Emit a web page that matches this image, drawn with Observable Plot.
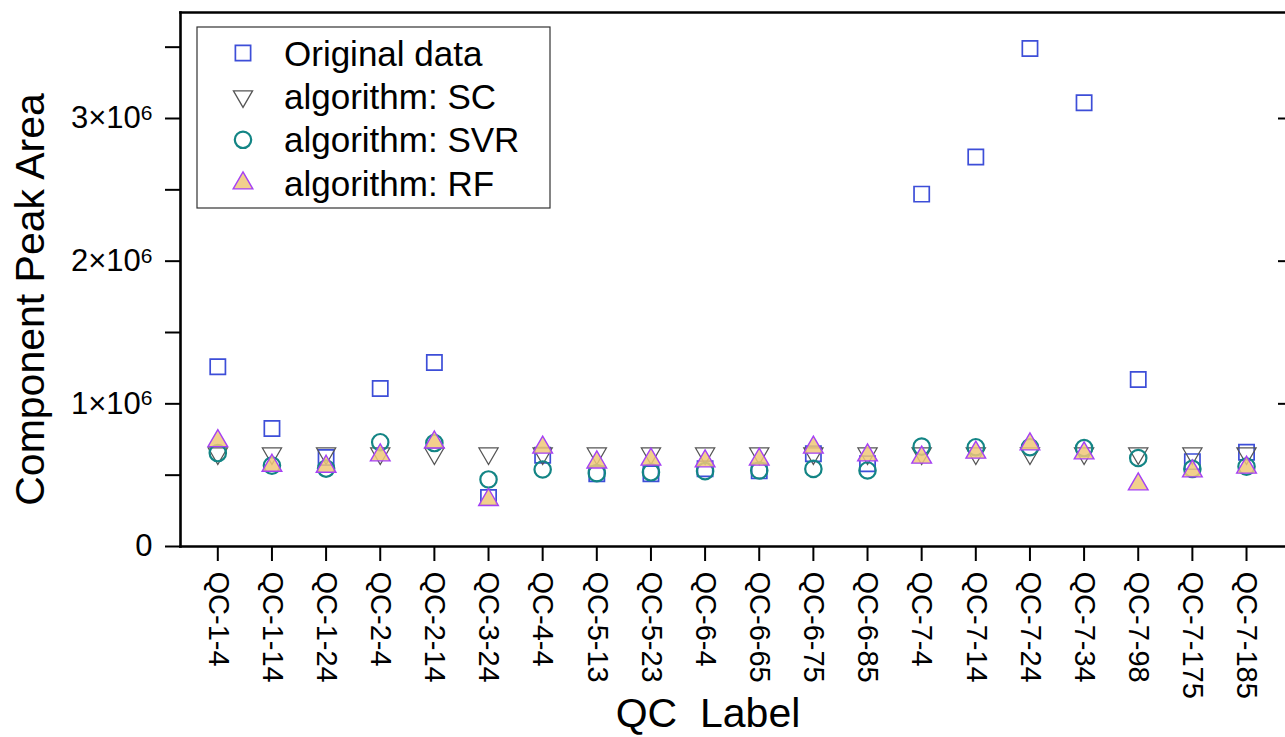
<!DOCTYPE html>
<html>
<head>
<meta charset="utf-8">
<script src="https://cdn.jsdelivr.net/npm/d3@7"></script>
<script src="https://cdn.jsdelivr.net/npm/@observablehq/plot@0.6"></script>
<style>
  html, body { margin: 0; padding: 0; background: #fff; }
  svg text { white-space: pre; }
</style>
</head>
<body>
<div id="chart"></div>
<script>
// ---- data ----
const labels = ["QC-1-4","QC-1-14","QC-1-24","QC-2-4","QC-2-14","QC-3-24","QC-4-4","QC-5-13","QC-5-23","QC-6-4","QC-6-65","QC-6-75","QC-6-85","QC-7-4","QC-7-14","QC-7-24","QC-7-34","QC-7-98","QC-7-175","QC-7-185"];
const originalData = [1.26e6, 0.827e6, 0.624e6, 1.107e6, 1.29e6, 0.343e6, 0.64e6, 0.51e6, 0.51e6, 0.545e6, 0.53e6, 0.65e6, 0.58e6, 2.47e6, 2.73e6, 3.49e6, 3.11e6, 1.17e6, 0.595e6, 0.66e6];
const scValues = [0.652e6, 0.652e6, 0.652e6, 0.652e6, 0.652e6, 0.652e6, 0.652e6, 0.652e6, 0.652e6, 0.652e6, 0.652e6, 0.652e6, 0.652e6, 0.652e6, 0.652e6, 0.652e6, 0.652e6, 0.652e6, 0.652e6, 0.652e6];
const svrValues = [0.655e6, 0.567e6, 0.546e6, 0.731e6, 0.725e6, 0.47e6, 0.54e6, 0.514e6, 0.52e6, 0.528e6, 0.533e6, 0.544e6, 0.533e6, 0.70e6, 0.696e6, 0.696e6, 0.69e6, 0.62e6, 0.544e6, 0.56e6];
const rfValues = [0.74e6, 0.567e6, 0.56e6, 0.64e6, 0.73e6, 0.327e6, 0.694e6, 0.59e6, 0.61e6, 0.598e6, 0.61e6, 0.694e6, 0.64e6, 0.624e6, 0.659e6, 0.717e6, 0.654e6, 0.437e6, 0.528e6, 0.554e6];
const seriesNames = ["Original data", "algorithm: SC", "algorithm: SVR", "algorithm: RF"];
const yMajorTicks = [0, 1e6, 2e6, 3e6];
const yMinorTicks = [0.5e6, 1.5e6, 2.5e6, 3.5e6];
const xDomain = [-0.689, 19.72];
const yDomain = [0, 3.743e6];

// ---- styles ----
const styles = [
  {symbol: "square",   r: 8.6, stroke: "#3d4ed8", fill: "none", strokeWidth: 1.7, rotate: 0},
  {symbol: "triangle", r: 7.1, stroke: "#555555", fill: "none", strokeWidth: 1.3, rotate: 180},
  {symbol: "circle",   r: 8.2, stroke: "#138585", fill: "none", strokeWidth: 2.2, rotate: 0},
  {symbol: "triangle", r: 7.3, stroke: "#a540f5", fill: "#f0c878", strokeWidth: 1.4, rotate: 0, fillOpacity: 0.85}
];
const allValues = [originalData, scValues, svrValues, rfValues];
const tables = allValues.map(vals => vals.map((v, i) => ({i, label: labels[i], v})));

const FONT = "'Liberation Sans', Arial, Helvetica, sans-serif";

const dotMarks = tables.map((t, k) => Plot.dot(t, {
  x: "i", y: "v",
  symbol: styles[k].symbol, r: styles[k].r,
  stroke: styles[k].stroke, fill: styles[k].fill,
  fillOpacity: styles[k].fillOpacity ?? 1,
  strokeWidth: styles[k].strokeWidth,
  rotate: styles[k].rotate
}));

const chart = Plot.plot({
  width: 1285, height: 737,
  marginLeft: 180, marginRight: 0, marginTop: 12, marginBottom: 191,
  style: {fontFamily: FONT, background: "#fff", color: "#000", overflow: "visible"},
  x: {type: "linear", domain: xDomain},
  y: {type: "linear", domain: yDomain},
  marks: [
    Plot.axisX(d3.range(labels.length), {anchor: "bottom", tickSize: 15, tickPadding: 10, tickRotate: 90,
      tickFormat: i => labels[i], fontSize: 29, label: null, strokeWidth: 2}),
    Plot.axisY(yMajorTicks, {anchor: "left", tickSize: 15, tickPadding: 13,
      tickFormat: d => d === 0 ? "0" : `${d / 1e6}×10^6`, fontSize: 31, label: null, strokeWidth: 2}),
    Plot.axisY(yMinorTicks, {anchor: "left", tickSize: 15, tickFormat: () => "", label: null, strokeWidth: 2}),
    Plot.axisY(yMajorTicks.slice(1), {anchor: "right", tickSize: 8, insetRight: 8, tickFormat: () => "", label: null, strokeWidth: 2}),
    Plot.frame({anchor: "left", strokeWidth: 2.6}),
    Plot.frame({anchor: "bottom", strokeWidth: 2.6}),
    Plot.frame({anchor: "top", strokeWidth: 2.6}),
    ...dotMarks,
    Plot.text(["Component Peak Area"], {text: d => d, frameAnchor: "left", textAnchor: "middle", rotate: -90, dx: -150, dy: 20, fontSize: 41}),
    Plot.text(["QC  Label"], {text: d => d, frameAnchor: "bottom", textAnchor: "middle", dx: -25, dy: 180, lineAnchor: "bottom", fontSize: 41})
  ]
});

document.getElementById("chart").appendChild(chart);

// superscript exponents on y tick labels
d3.select(chart).selectAll('g[aria-label="y-axis tick label"] text').each(function() {
  const t = this.textContent;
  if (t.includes("^")) {
    const [base, exp] = t.split("^");
    this.textContent = base;
    d3.select(this).append("tspan").attr("dy", "-0.4em").attr("font-size", "21px").text(exp);
  }
});

// legend (inside plot, top-left)
const svg = d3.select(chart);
const lg = svg.append("g").attr("font-family", FONT).attr("text-anchor", "start");
lg.append("rect").attr("x", 197).attr("y", 27).attr("width", 353).attr("height", 181)
  .attr("fill", "#fff").attr("stroke", "#333").attr("stroke-width", 1.2);
const symMap = {square: d3.symbolSquare, triangle: d3.symbolTriangle, circle: d3.symbolCircle};
seriesNames.forEach((name, k) => {
  const cy = 53 + k * 43.4;
  const s = styles[k];
  lg.append("path")
    .attr("d", d3.symbol(symMap[s.symbol], Math.PI * s.r * s.r)())
    .attr("transform", `translate(243,${cy}) rotate(${s.rotate})`)
    .attr("fill", s.fill).attr("fill-opacity", s.fillOpacity ?? 1)
    .attr("stroke", s.stroke).attr("stroke-width", s.strokeWidth);
  lg.append("text").attr("x", 284).attr("y", cy + 12.5).attr("font-size", 35)
    .attr("text-anchor", "start").attr("fill", "#000").text(name);
});
</script>
</body>
</html>
